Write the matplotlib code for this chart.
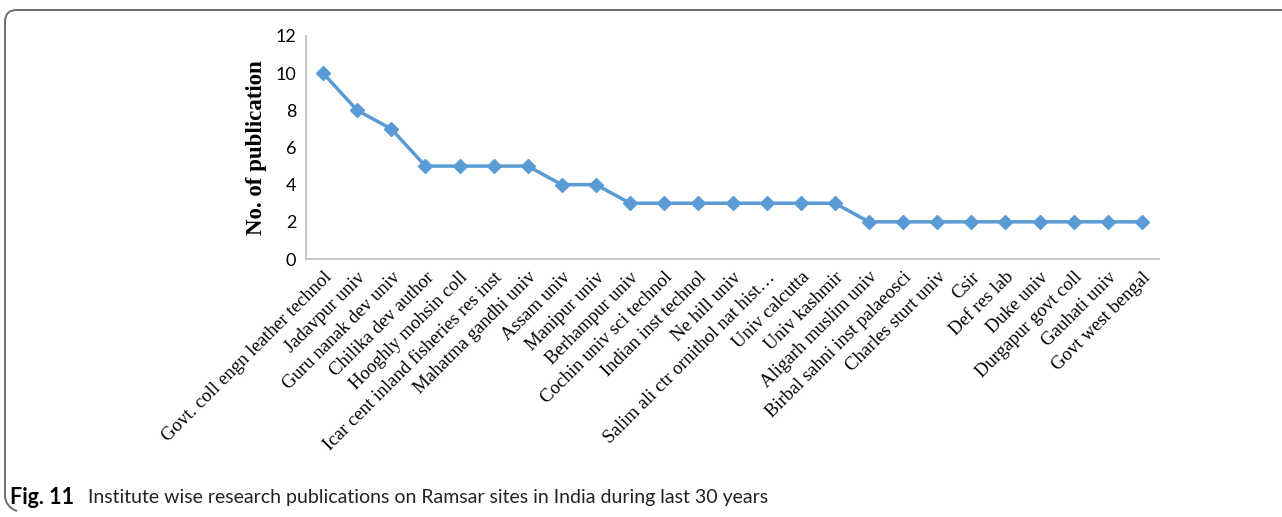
import matplotlib.pyplot as plt
from matplotlib.path import Path
from matplotlib.patches import PathPatch

institutes = [
    "Govt. coll engn leather technol", "Jadavpur univ", "Guru nanak dev univ",
    "Chilika dev author", "Hooghly mohsin coll", "Icar cent inland fisheries res inst",
    "Mahatma gandhi univ", "Assam univ", "Manipur univ", "Berhampur univ",
    "Cochin univ sci technol", "Indian inst technol", "Ne hill univ",
    "Salim ali ctr ornithol nat hist\u2026", "Univ calcutta", "Univ kashmir",
    "Aligarh muslim univ", "Birbal sahni inst palaeosci", "Charles sturt univ",
    "Csir", "Def res lab", "Duke univ", "Durgapur govt coll", "Gauhati univ",
    "Govt west bengal",
]
publications = [10, 8, 7, 5, 5, 5, 5, 4, 4, 3, 3, 3, 3, 3, 3, 3, 2, 2, 2, 2, 2, 2, 2, 2, 2]
y_ticks = [0, 2, 4, 6, 8, 10, 12]

W, H = 1282, 517
fig = plt.figure(figsize=(W / 100, H / 100), dpi=100)

# plot area
ax = fig.add_axes([306 / W, 1 - 259 / H, 853 / W, 223 / H])
x = list(range(len(institutes)))
ax.plot(x, publications, color="#5B9BD5", lw=2.5, marker="D", ms=7,
        markerfacecolor="#5B9BD5", markeredgecolor="#5B9BD5")
ax.set_xlim(-0.5, len(institutes) - 0.5)
ax.set_ylim(0, 12)
ax.set_yticks(y_ticks)
ax.set_yticklabels([str(v) for v in y_ticks], family="Lato", fontsize=13)
ax.set_xticks(x)
ax.set_xticklabels(institutes, family="Liberation Serif", fontsize=13.5,
                   rotation=45, ha="right", va="top", rotation_mode="anchor")
ax.tick_params(length=0, pad=7)
ax.tick_params(axis="x", pad=7)
for s in ["top", "right"]:
    ax.spines[s].set_visible(False)
for s in ["left", "bottom"]:
    ax.spines[s].set_color("#BFBFBF")
    ax.spines[s].set_linewidth(1.2)
ax.set_ylabel("No. of publication", family="Liberation Serif", fontweight="bold",
              fontsize=16.5, labelpad=6)

# frame of the figure box (top line and rounded left edge)
r = 12
verts = [(W, 10), (5 + r, 10), (5, 10), (5, 10 + r), (5, 507 - r), (5, 507), (5 + r, 511)]
codes = [Path.MOVETO, Path.LINETO, Path.CURVE3, Path.CURVE3, Path.LINETO, Path.CURVE3, Path.CURVE3]
verts = [(vx / W, 1 - vy / H) for vx, vy in verts]
fig.add_artist(PathPatch(Path(verts, codes), fill=False, edgecolor="#6E6E6E",
                         lw=1.4, transform=fig.transFigure))

# caption
fig.text(10 / W, 1 - 497 / H, "Fig. 11", family="Lato", fontweight="bold",
         fontsize=15.5, va="center", ha="left")
fig.text(88 / W, 1 - 497 / H,
         "Institute wise research publications on Ramsar sites in India during last 30 years",
         family="Lato", fontsize=14, va="center", ha="left", color="#222222")

fig.savefig("out.png", dpi=100)
